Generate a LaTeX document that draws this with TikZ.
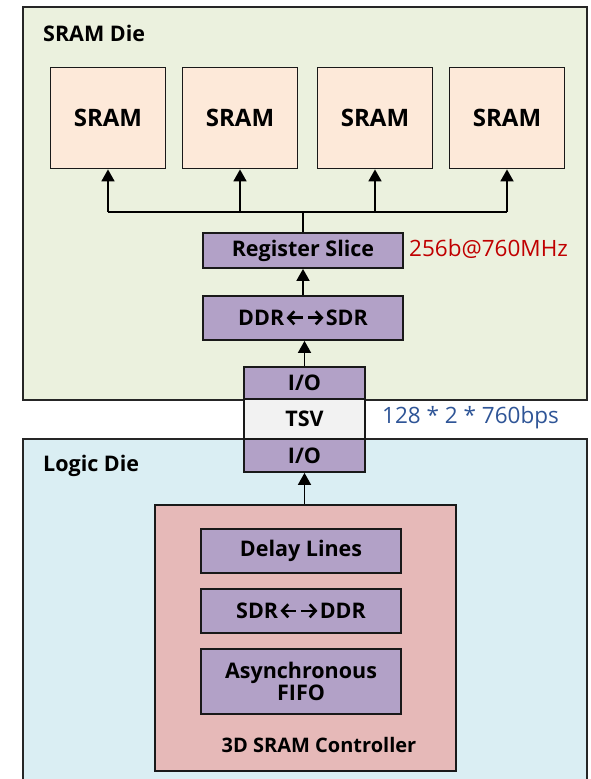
\documentclass[tikz,border=0pt]{standalone}
\usepackage{fontspec}
\setmainfont{Open Sans}
\usetikzlibrary{arrows.meta}
\definecolor{sramdie}{HTML}{EBF1DE}
\definecolor{logicdie}{HTML}{DAEEF3}
\definecolor{srambox}{HTML}{FDE9D9}
\definecolor{purplebox}{HTML}{B2A1C7}
\definecolor{ctrlbox}{HTML}{E6B9B8}
\definecolor{tsvbox}{HTML}{F2F2F2}
\definecolor{redtext}{HTML}{C00000}
\definecolor{bluetext}{HTML}{2F5597}
% pair of chevron arrows (left, right) set between two words
\newcommand{\lr}{\kern1pt\tikz[baseline={(0pt,-8pt)}]{%
  \draw[line width=2.6pt, {Straight Barb[length=6pt,width=13pt,line width=2.6pt]}-] (0pt,0pt) -- (16pt,0pt);
  \draw[line width=2.6pt, -{Straight Barb[length=6pt,width=13pt,line width=2.6pt]}] (21pt,0pt) -- (37pt,0pt);}\kern1pt}
\tikzset{
  die/.style={draw=black!85, line width=1.4pt, inner sep=0pt},
  sramblk/.style={draw=black!90, line width=1.8pt, fill=srambox, minimum width=115pt, minimum height=101pt, inner sep=0pt, font=\bfseries\fontsize{24}{26}\selectfont},
  pblk/.style={draw=black!90, line width=1.8pt, fill=purplebox, inner sep=0pt, font=\bfseries\fontsize{21.5}{25}\selectfont, align=center},
  title/.style={anchor=west, inner sep=0pt, font=\bfseries\fontsize{21.5}{23}\selectfont},
  note/.style={anchor=west, inner sep=0pt, font=\fontsize{22.5}{24}\selectfont},
  conn/.style={line width=1.8pt, -{Triangle[width=13pt,length=12pt]}},
  wire/.style={line width=1.8pt}
}
\begin{document}
\begin{tikzpicture}[x=1pt,y=-1pt]
\useasboundingbox (0,0) rectangle (590,779);
\clip (0,0) rectangle (590,779);
\fill[white] (0,0) rectangle (590,779);

% dies
\node[die, fill=sramdie, minimum width=564pt, minimum height=393pt] (sdie) at (305,203.5) {};
\node[die, fill=logicdie, minimum width=564pt, minimum height=360pt] (ldie) at (305,619) {};
\node[title] (sdielbl) at (43,33) {SRAM Die};
\node[title] (ldielbl) at (43,466) {Logic Die};

% SRAM macros
\node[sramblk] (s1) at (108,118) {SRAM};
\node[sramblk] (s2) at (240,118) {SRAM};
\node[sramblk] (s3) at (375,118) {SRAM};
\node[sramblk] (s4) at (507,118) {SRAM};

% SRAM die datapath
\node[pblk, minimum width=200pt, minimum height=35pt] (reg) at (303,250.5) {Register Slice};
\node[pblk, minimum width=200pt, minimum height=44pt] (ddr) at (303,318) {DDR\lr SDR};
\node[note, text=redtext] (regnote) at (409,249) {256b@760MHz};

% TSV stack
\node[pblk, minimum width=121pt, minimum height=32pt] (iotop) at (304.5,383) {I/O};
\node[draw=black!90, line width=1.8pt, fill=tsvbox, minimum width=121pt, minimum height=40pt, inner sep=0pt, font=\bfseries\fontsize{21.5}{25}\selectfont] (tsv) at (304.5,419) {TSV};
\node[pblk, minimum width=121pt, minimum height=33pt] (iobot) at (304.5,455.5) {I/O};
\node[note, text=bluetext] (tsvnote) at (382,418) {128 * 2 * 760bps};

% controller
\node[draw=black!90, line width=1.8pt, fill=ctrlbox, minimum width=301pt, minimum height=266pt, inner sep=0pt] (ctrl) at (305.5,638) {};
\node[pblk, minimum width=200pt, minimum height=44pt] (delay) at (301,551) {Delay Lines};
\node[pblk, minimum width=200pt, minimum height=44pt] (sdr) at (301,611) {SDR\lr DDR};
\node[pblk, minimum width=200pt, minimum height=65pt] (fifo) at (301,681.5) {Asynchronous\\[-3pt]FIFO};
\node[inner sep=0pt, font=\bfseries\fontsize{20}{22}\selectfont] (ctrllbl) at (319,745) {3D SRAM Controller};

% connectors
\coordinate (bus) at (reg.north |- 0,212);
\draw[wire] (reg.north) -- (bus);
\draw[wire] (s1.south |- bus) -- (s4.south |- bus);
\foreach \s in {s1,s2,s3,s4} \draw[conn] (\s.south |- bus) -- (\s.south);
\draw[conn] (ddr.north) -- (reg.south);
\draw[conn] (iotop.north) -- (iotop.north |- ddr.south);
\draw[conn] (ctrl.north -| iobot.south) -- (iobot.south);
\end{tikzpicture}
\end{document}
